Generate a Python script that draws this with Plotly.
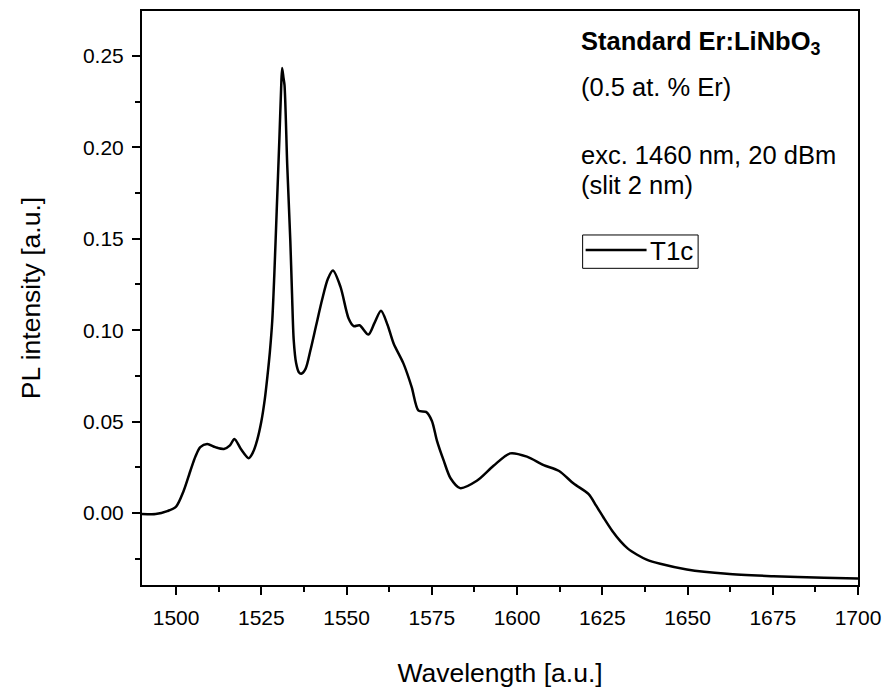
import plotly.graph_objects as go

# ---- data ----
wavelength = [1490, 1494, 1497.4, 1500, 1502.2, 1504.2, 1505.7, 1507.1, 1509.1, 1511.5,
              1514, 1515.8, 1517.1, 1519, 1521.3, 1522.5, 1523.8, 1525, 1526, 1526.8,
              1527.5, 1528.2, 1528.8, 1529.5, 1530.3, 1530.8, 1531.1, 1531.5, 1531.8, 1532.6,
              1533.5, 1534.0, 1534.5, 1535.2, 1536.0, 1536.7, 1538, 1539.4, 1541, 1542.8,
              1544.5, 1546.0, 1548.2, 1550.6, 1552.1, 1553.8, 1556.4, 1558.2, 1560.1, 1562,
              1563.8, 1566.7, 1569.1, 1571.1, 1573.3, 1575, 1576.5, 1578.5, 1580.5, 1583.3,
              1588.2, 1593.1, 1598.0, 1602.9, 1607.8, 1612.2, 1616.6, 1621.0, 1623.2, 1625.4,
              1628, 1630.3, 1632.5, 1635.1, 1638, 1642.0, 1649.8, 1661.5, 1675.2, 1690, 1700]
intensity = [-0.0005, -0.0006, 0.001, 0.0035, 0.012, 0.0231, 0.031, 0.036, 0.0377, 0.036,
             0.035, 0.037, 0.0405, 0.035, 0.030, 0.033, 0.040, 0.050, 0.062, 0.075,
             0.088, 0.105, 0.13, 0.165, 0.205, 0.232, 0.2434, 0.238, 0.234, 0.19,
             0.149, 0.12, 0.0945, 0.082, 0.077, 0.0762, 0.079, 0.089, 0.102, 0.1165,
             0.128, 0.1326, 0.1238, 0.1064, 0.1022, 0.1027, 0.0976, 0.104, 0.1106, 0.103,
             0.0927, 0.0817, 0.0689, 0.056, 0.0553, 0.0505, 0.0396, 0.0286, 0.019, 0.0136,
             0.0176, 0.0258, 0.0326, 0.0308, 0.0262, 0.0231, 0.0161, 0.0103, 0.004, -0.0026,
             -0.010, -0.0154, -0.0195, -0.0227, -0.0255, -0.0278, -0.0309, -0.0333, -0.0346, -0.0355, -0.0359]
series_name = "T1c"
x_ticks = [1500, 1525, 1550, 1575, 1600, 1625, 1650, 1675, 1700]
y_ticks = [0.00, 0.05, 0.10, 0.15, 0.20, 0.25]

FONT = "Liberation Sans, Arial, sans-serif"

fig = go.Figure()
fig.add_trace(go.Scatter(
    x=wavelength, y=intensity, mode="lines", name=series_name,
    line=dict(color="black", width=2.5, shape="spline", smoothing=0.8),
    showlegend=False,
))

axis_common = dict(
    showline=True, linecolor="black", linewidth=2, mirror=True,
    ticks="outside", tickcolor="black", tickwidth=2, ticklen=8,
    showgrid=False, zeroline=False, automargin=False,
    tickfont=dict(family=FONT, size=21, color="black"),
)

fig.update_xaxes(
    range=[1490, 1700], tickvals=x_ticks, ticklabelstandoff=5,
    minor=dict(ticks="outside", ticklen=5, tickwidth=2, tickcolor="black", dtick=12.5, tick0=1500),
    title=dict(text="Wavelength [a.u.]", font=dict(family=FONT, size=26.5, color="black"), standoff=36),
    **axis_common,
)
fig.update_yaxes(
    range=[-0.0394, 0.2746], tickvals=y_ticks, tickformat=".2f", ticklabelstandoff=4,
    minor=dict(ticks="outside", ticklen=5, tickwidth=2, tickcolor="black", dtick=0.025, tick0=0),
    title=dict(text="PL intensity [a.u.]", font=dict(family=FONT, size=26.5, color="black"), standoff=35),
    **axis_common,
)

ann_x = 0.6105
texts = [
    ("<b>Standard Er:LiNbO<sub>3</sub></b>", 0.944),
    ("(0.5 at. % Er)", 0.8676),
    ("exc. 1460 nm, 20 dBm", 0.749),
    ("(slit 2 nm)", 0.697),
]
for t, yy in texts:
    fig.add_annotation(x=ann_x, y=yy, xref="paper", yref="paper", text=t, showarrow=False,
                       xanchor="left", yanchor="middle",
                       font=dict(family=FONT, size=25.5, color="black"))

# legend box drawn to match the reference's compact framed legend
leg_x0, leg_x1, leg_y0, leg_y1 = 0.6154, 0.7767, 0.5517, 0.6098
fig.add_shape(type="rect", xref="paper", yref="paper", x0=leg_x0, x1=leg_x1, y0=leg_y0, y1=leg_y1,
              line=dict(color="black", width=1), fillcolor="white", layer="above")
fig.add_shape(type="line", xref="paper", yref="paper", x0=0.6196, x1=0.7047, y0=0.5836, y1=0.5836,
              line=dict(color="black", width=2.5), layer="above")
fig.add_annotation(x=0.7061, y=0.5820, xref="paper", yref="paper", text=series_name, showarrow=False,
                   xanchor="left", yanchor="middle",
                   font=dict(family=FONT, size=26, color="black"))

fig.update_layout(
    width=883, height=688,
    margin=dict(l=142, r=25, t=11, b=103),
    plot_bgcolor="white", paper_bgcolor="white",
    showlegend=False,
)

fig.write_html("out.html")
